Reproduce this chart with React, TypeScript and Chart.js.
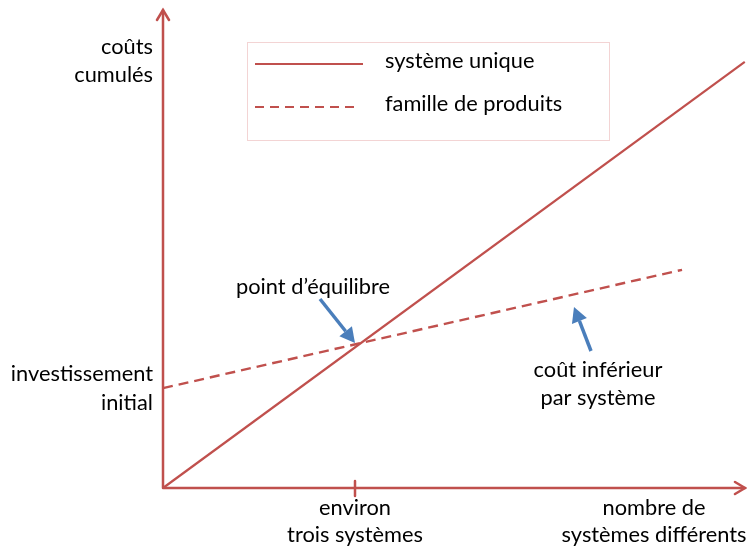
import React, { useEffect, useRef } from "react";
import { Chart, registerables } from "chart.js";

Chart.register(...registerables);

const seriesLabels = ["système unique", "famille de produits"];
const systemeUniqueX = [0, 9.09];
const systemeUniqueY = [0, 6.66];
const familleProduitsX = [0, 8.11];
const familleProduitsY = [1.56, 3.41];
const xTickValue = 3;
const xTickLabel = ["environ", "trois systèmes"];
const xAxisTitle = ["nombre de", "systèmes différents"];
const yAxisTitle = ["coûts", "cumulés"];
const yLevelLabel = ["investissement", "initial"];
const noteEquilibre = "point d’équilibre";
const noteCout = ["coût inférieur", "par système"];

const RED = "#C0504D";
const BLUE = "#4A7EBB";
const FONT = '21.8px "Lato", "Open Sans", sans-serif';

function arrow(ctx: CanvasRenderingContext2D, x1: number, y1: number, x2: number, y2: number) {
  const ang = Math.atan2(y2 - y1, x2 - x1);
  const hl = 15;
  const hw = 8;
  const bx = x2 - hl * Math.cos(ang);
  const by = y2 - hl * Math.sin(ang);
  ctx.save();
  ctx.strokeStyle = BLUE;
  ctx.fillStyle = BLUE;
  ctx.lineWidth = 3.5;
  ctx.beginPath();
  ctx.moveTo(x1, y1);
  ctx.lineTo(bx, by);
  ctx.stroke();
  ctx.beginPath();
  ctx.moveTo(x2, y2);
  ctx.lineTo(bx + hw * Math.sin(ang), by - hw * Math.cos(ang));
  ctx.lineTo(bx - hw * Math.sin(ang), by + hw * Math.cos(ang));
  ctx.closePath();
  ctx.fill();
  ctx.restore();
}

const decorPlugin = {
  id: "decor",
  beforeDatasetsDraw(chart: any) {
    const ctx: CanvasRenderingContext2D = chart.ctx;
    const xs = chart.scales.x;
    const ys = chart.scales.y;
    const ox = xs.getPixelForValue(0);
    const oy = ys.getPixelForValue(0);
    const right = xs.right - 2;
    const top = ys.top;
    ctx.save();
    ctx.strokeStyle = RED;
    ctx.lineWidth = 2.5;
    ctx.lineCap = "round";
    ctx.beginPath();
    ctx.moveTo(ox, oy);
    ctx.lineTo(ox, top);
    ctx.moveTo(ox, oy);
    ctx.lineTo(right, oy);
    ctx.stroke();
    ctx.beginPath();
    ctx.moveTo(ox - 6, top + 10);
    ctx.lineTo(ox, top);
    ctx.lineTo(ox + 6, top + 10);
    ctx.moveTo(right - 10, oy - 6);
    ctx.lineTo(right, oy);
    ctx.lineTo(right - 10, oy + 6);
    ctx.stroke();
    const tx = xs.getPixelForValue(xTickValue);
    ctx.beginPath();
    ctx.moveTo(tx, oy - 7);
    ctx.lineTo(tx, oy + 8);
    ctx.stroke();
    ctx.restore();

    ctx.save();
    ctx.fillStyle = "#000";
    ctx.font = FONT;
    ctx.textBaseline = "middle";
    ctx.textAlign = "center";
    ctx.fillText(xTickLabel[0], tx, 508);
    ctx.fillText(xTickLabel[1], tx, 535);
    ctx.fillText(xAxisTitle[0], 654, 508);
    ctx.fillText(xAxisTitle[1], 654, 535);
    ctx.textAlign = "right";
    ctx.fillText(yAxisTitle[0], 153, 47);
    ctx.fillText(yAxisTitle[1], 153, 75);
    ctx.fillText(yLevelLabel[0], 153, 374);
    ctx.fillText(yLevelLabel[1], 153, 403);
    ctx.textAlign = "center";
    ctx.fillText(noteEquilibre, 313, 287);
    ctx.fillText(noteCout[0], 598, 370);
    ctx.fillText(noteCout[1], 598, 398);
    ctx.restore();

    arrow(ctx, 320, 299, 355, 343);
    arrow(ctx, 591, 351, 574, 307);

    ctx.save();
    ctx.strokeStyle = "#E6A9A8";
    ctx.lineWidth = 1;
    ctx.setLineDash([1, 1]);
    ctx.strokeRect(247.5, 42.5, 362, 98);
    ctx.setLineDash([]);
    ctx.strokeStyle = RED;
    ctx.lineWidth = 2.2;
    ctx.beginPath();
    ctx.moveTo(255, 64);
    ctx.lineTo(363, 64);
    ctx.stroke();
    ctx.setLineDash([9, 6]);
    ctx.beginPath();
    ctx.moveTo(255, 107);
    ctx.lineTo(360, 107);
    ctx.stroke();
    ctx.setLineDash([]);
    ctx.fillStyle = "#000";
    ctx.font = FONT;
    ctx.textBaseline = "middle";
    ctx.textAlign = "left";
    ctx.fillText(chart.data.datasets[0].label, 385, 61);
    ctx.fillText(chart.data.datasets[1].label, 385, 104);
    ctx.restore();
  },
};

export default function App() {
  const ref = useRef<HTMLCanvasElement | null>(null);
  useEffect(() => {
    if (!ref.current) return;
    const chart = new Chart(ref.current, {
      type: "scatter",
      data: {
        datasets: [
          {
            label: seriesLabels[0],
            data: systemeUniqueX.map((x, i) => ({ x, y: systemeUniqueY[i] })),
            showLine: true,
            borderColor: RED,
            borderWidth: 2.2,
            pointRadius: 0,
            clip: false as any,
          },
          {
            label: seriesLabels[1],
            data: familleProduitsX.map((x, i) => ({ x, y: familleProduitsY[i] })),
            showLine: true,
            borderColor: RED,
            borderWidth: 2.4,
            borderDash: [10, 6],
            pointRadius: 0,
            clip: false as any,
          },
        ],
      },
      options: {
        responsive: false,
        animation: false,
        layout: { padding: { left: 163, top: 10, right: 0, bottom: 61 } },
        plugins: { legend: { display: false }, tooltip: { enabled: false } },
        scales: {
          x: { type: "linear", min: 0, max: 9.125, display: false },
          y: { type: "linear", min: 0, max: 7.47, display: false },
        },
      },
      plugins: [decorPlugin],
    });
    return () => chart.destroy();
  }, []);
  return (
    <div style={{ position: "absolute", left: 0, top: 0, width: 747, height: 549, background: "#fff" }}>
      <canvas ref={ref} width={747} height={549} style={{ display: "block" }} />
    </div>
  );
}
